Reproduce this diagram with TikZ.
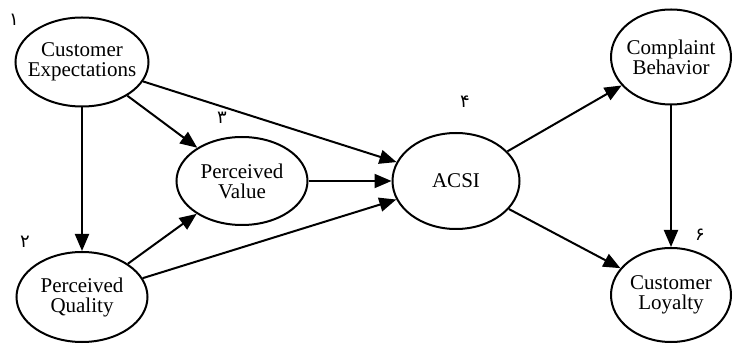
\documentclass[tikz,border=0pt]{standalone}
\usepackage{fontspec}
\setmainfont{Liberation Serif}
\newfontfamily\arabicfont[Script=Arabic]{DejaVu Sans}
\usetikzlibrary{shapes.geometric,arrows.meta}
\begin{document}
\begin{tikzpicture}[x=1pt,y=-1pt,
  var/.style={draw,line width=2pt,ellipse,inner sep=0pt},
  txt/.style={align=center,inner sep=0pt,font=\fontsize{21}{20}\selectfont},
  arr/.style={line width=2pt,-{Triangle[length=17pt,width=14pt]}},
  num/.style={font=\arabicfont\fontsize{18}{18}\selectfont,inner sep=0pt}]
\useasboundingbox (0,0) rectangle (733,344);
\node[var,minimum width=133pt,minimum height=89pt,label={[txt]center:Customer\\Expectations}] (ce) at (82,62) {};
\node[var,minimum width=131pt,minimum height=90pt,label={[txt]center:Perceived\\Quality}] (pq) at (82,297) {};
\node[var,minimum width=131pt,minimum height=88pt,label={[txt]center:Perceived\\Value}] (pv) at (242,181) {};
\node[var,minimum width=127pt,minimum height=96pt,label={[txt]center:ACSI}] (acsi) at (456,181) {};
\node[var,minimum width=120pt,minimum height=95pt,label={[txt]center:Complaint\\Behavior}] (cb) at (671,57) {};
\node[var,minimum width=120pt,minimum height=94pt,label={[txt]center:Customer\\Loyalty}] (cl) at (671,295) {};
\node[num] (n1) at (14,20) {۱};
\node[num] (n2) at (25,242) {۲};
\node[num] (n3) at (222,118) {۳};
\node[num] (n4) at (465,102) {۴};
\node[num] (n6) at (700,235) {۶};
\draw[arr] (ce) -- (acsi);
\draw[arr] (ce) -- (pv);
\draw[arr] (ce) -- (pq);
\draw[arr] (pq) -- (pv);
\draw[arr] (pq) -- (acsi);
\draw[arr] (pv) -- (acsi);
\draw[arr] (acsi) -- (cb);
\draw[arr] (acsi) -- (cl);
\draw[arr] (cb) -- (cl);
\end{tikzpicture}
\end{document}
